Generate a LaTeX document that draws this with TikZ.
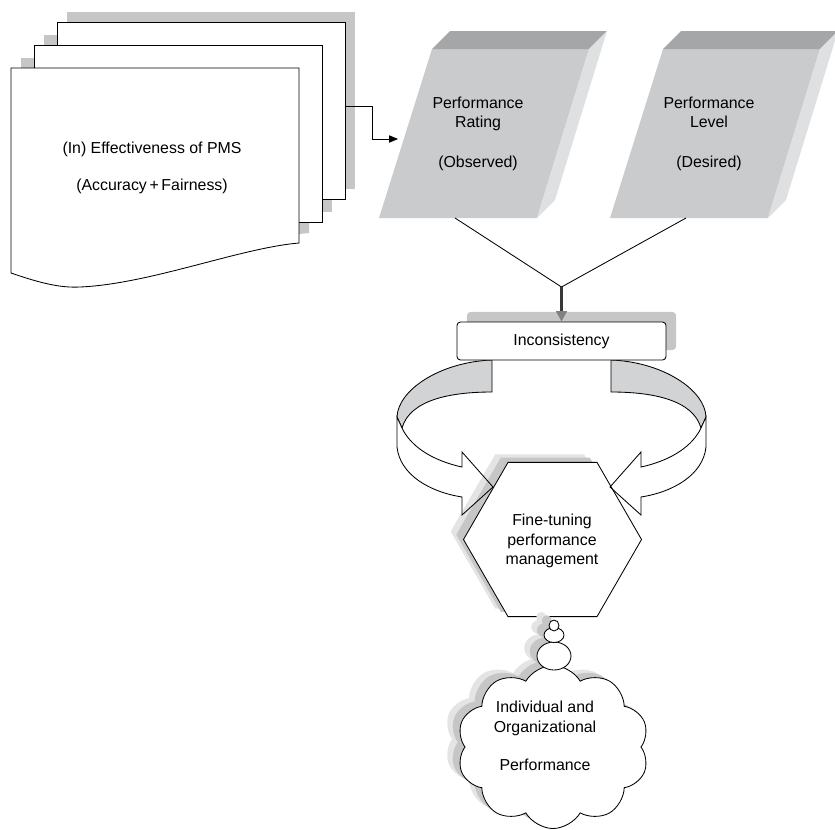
\documentclass[tikz,border=0pt]{standalone}
\usepackage{fontspec}
\setmainfont{Liberation Sans}
\usetikzlibrary{arrows.meta,shapes.geometric,shapes.symbols,shadows}
\definecolor{pagegray}{HTML}{C6C6C6}
\definecolor{haze}{HTML}{E4E4E4}
\definecolor{facefront}{HTML}{CACBCC}
\definecolor{facetop}{HTML}{A5A6A8}
\definecolor{faceside}{HTML}{DFE0E1}
\definecolor{band}{HTML}{D2D3D4}
\newcommand\frontpage{(11,68) -- (299,68) -- (299,243) .. controls (240,248) and (150,284) .. (80,287) .. controls (60,288) and (40,283) .. (11,273) -- cycle}
\newcommand\ringband{(-59.5,360) .. controls (-111.5,362) and (-153.5,390) .. (-154.5,417) -- (-149.5,428) .. controls (-141.5,400) and (-101.5,392) .. (-59.5,392) -- cycle}
\newcommand\ringfront{(-154.5,417) -- (-154.5,447) .. controls (-151.5,475) and (-121.5,492) .. (-89.5,497) -- (-89.5,515) -- (-58.5,487) -- (-89.5,452) -- (-89.5,467) .. controls (-121.5,460) and (-141.5,445) .. (-149.5,428) -- cycle}
\begin{document}
\begin{tikzpicture}[x=0.025cm,y=-0.025cm,line width=0.6pt,
  every node/.style={font=\fontsize{11.3}{13.5}\selectfont},
  txt/.style={anchor=base,inner sep=0pt},
  softshadow/.style={drop shadow={shadow xshift=-0.32cm,shadow yshift=0.2cm,fill=haze,opacity=1},
    drop shadow={shadow xshift=-0.18cm,shadow yshift=0.12cm,fill=pagegray,opacity=1}},
  bubble/.style={draw,fill=white,ellipse,inner sep=0pt,softshadow}]
\useasboundingbox (0,0) rectangle (835,829);
\foreach \k in {2,1}
  \fill[pagegray] (21+23*\k,58-23*\k) rectangle (309+23*\k,235-23*\k);
\fill[pagegray,shift={(10,-10)}] \frontpage;
\foreach \k in {2,1}
  \draw[fill=white] (11+23*\k,68-23*\k) rectangle (299+23*\k,245-23*\k);
\draw[fill=white] \frontpage;
\node[txt] (eff) at (152,153) {(In) Effectiveness of PMS};
\node[txt] (acc) at (152,190) {(Accuracy\,+\,Fairness)};
\foreach \dx/\nm/\word/\note in {0/rate/Rating/Observed,231/level/Level/Desired}{
  \begin{scope}[shift={(\dx,0)}]
  \fill[facefront] (432,49) -- (589,49) -- (537,218) -- (379,218) -- cycle;
  \fill[facetop] (432,49) -- (589,49) -- (607,31) -- (450,31) -- cycle;
  \fill[faceside] (589,49) -- (607,31) -- (555,200) -- (537,218) -- cycle;
  \node[txt] (\nm-a) at (478,108) {Performance};
  \node[txt] (\nm-b) at (478,127) {\word};
  \node[txt] (\nm-c) at (478,167) {(\note)};
  \coordinate (\nm-foot) at (455,218);
  \end{scope}}
\coordinate (stackout) at (345,106);
\coordinate (ratein) at (398,139);
\draw[-{Triangle[length=2.2mm,width=1.8mm]}] (stackout) -- ++(27,0) |- (ratein);
\coordinate (join) at (561.5,287);
\draw (rate-foot) -- (join) -- (level-foot);
\foreach \s in {1,-1}{
  \begin{scope}[shift={(551.5,0)},xscale=\s]
  \draw[fill=band] \ringband;
  \fill[white] \ringfront;
  \end{scope}}
\node[draw,fill=white,rounded corners=2.5pt,minimum width=5.225cm,minimum height=0.95cm,
  drop shadow={shadow xshift=0.25cm,shadow yshift=0.25cm,fill=pagegray,opacity=1}] (incons) at (561.5,341) {Inconsistency};
\draw[line width=2.4pt,draw=black!78,-{Triangle[length=2.6mm,width=2.6mm,color=gray]}] (join) -- (incons.north);
\node[draw,fill=white,regular polygon,regular polygon sides=6,minimum size=4.45cm,inner sep=0pt,softshadow] (fine) at (552.5,539.5) {};
\foreach \s in {1,-1}
  \draw[shift={(551.5,0)},xscale=\s] \ringfront;
\node[txt] (fine-a) at (552,525) {Fine-tuning};
\node[txt] (fine-b) at (552,545) {performance};
\node[txt] (fine-c) at (552,564) {management};
\node[draw,fill=white,cloud,cloud puffs=10,cloud puff arc=120,aspect=1.15,minimum width=4.8cm,minimum height=4.075cm,inner sep=0pt,softshadow] (perf) at (553,747) {};
\node[bubble,minimum width=0.85cm,minimum height=0.7cm] (bub3) at (554,656) {};
\node[bubble,minimum width=0.5cm,minimum height=0.375cm] (bub2) at (554,635) {};
\node[bubble,minimum width=0.25cm,minimum height=0.275cm] (bub1) at (554,625.5) {};
\node[txt] (perf-a) at (545,712) {Individual and};
\node[txt] (perf-b) at (545,732) {Organizational};
\node[txt] (perf-c) at (545,770) {Performance};
\end{tikzpicture}
\end{document}
